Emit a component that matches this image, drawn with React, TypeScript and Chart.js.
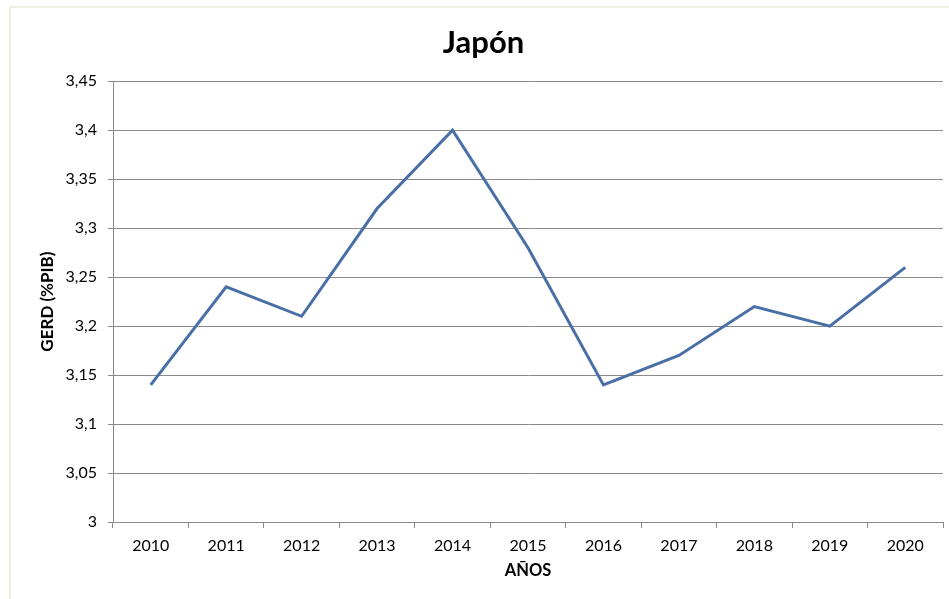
import React, { useEffect, useRef } from "react";
import { Chart, registerables } from "chart.js";

Chart.register(...registerables);

const years = ["2010", "2011", "2012", "2013", "2014", "2015", "2016", "2017", "2018", "2019", "2020"];
const gerd = [3.14, 3.24, 3.21, 3.32, 3.4, 3.28, 3.14, 3.17, 3.22, 3.2, 3.26];
const chartTitle = "Japón";
const yTitle = "GERD (%PIB)";
const xTitle = "AÑOS";

const FONT = "Lato, 'Noto Sans', sans-serif";
const GRID = "#8a8a8a";

export default function App() {
  const ref = useRef<HTMLCanvasElement | null>(null);

  useEffect(() => {
    document.body.style.margin = "0";
    const ctx = ref.current!.getContext("2d")!;
    const chart = new Chart(ctx, {
      type: "line",
      data: {
        labels: years,
        datasets: [
          {
            data: gerd,
            borderColor: "#4a6fa6",
            borderWidth: 3,
            pointRadius: 0,
            tension: 0,
            fill: false,
          },
        ],
      },
      options: {
        animation: false,
        responsive: false,
        layout: { padding: { left: 24, right: 6, top: 0, bottom: 0 } },
        plugins: {
          legend: { display: false },
          tooltip: { enabled: false },
          title: {
            display: true,
            text: chartTitle,
            color: "#000",
            font: { family: FONT, size: 31, weight: "bold" },
            padding: { top: 24, bottom: 20 },
          },
        },
        scales: {
          x: {
            offset: true,
            grid: {
              offset: true,
              drawOnChartArea: false,
              drawTicks: true,
              tickLength: 6,
              color: GRID,
            },
            border: { color: GRID, width: 1 },
            ticks: { color: "#000", font: { family: FONT, size: 16 }, padding: 8 },
            title: {
              display: true,
              text: xTitle,
              color: "#000",
              font: { family: FONT, size: 16.5, weight: "bold" },
              padding: { top: 0, bottom: 18 },
            },
            afterFit: (s: any) => {
              s.height = 77;
            },
          },
          y: {
            min: 3,
            max: 3.45,
            grid: { color: GRID, tickLength: 5, lineWidth: 1 },
            border: { color: GRID, width: 1 },
            ticks: {
              stepSize: 0.05,
              color: "#000",
              font: { family: FONT, size: 16 },
              padding: 11,
              callback: (v: any) => String(Number(Number(v).toFixed(2))).replace(".", ","),
            },
            title: {
              display: true,
              text: yTitle,
              color: "#000",
              font: { family: FONT, size: 17, weight: "bold" },
              padding: { top: 13, bottom: 0 },
            },
            afterFit: (s: any) => {
              s.width = 89;
            },
          },
        },
      },
    });
    return () => chart.destroy();
  }, []);

  return (
    <div style={{ position: "relative", width: 949, height: 599, overflow: "hidden", background: "#fff" }}>
      <div
        style={{
          position: "absolute",
          left: 9,
          top: 6,
          width: 1200,
          height: 1200,
          border: "2px solid #efefe2",
          boxSizing: "border-box",
        }}
      />
      <canvas ref={ref} width={949} height={599} style={{ position: "absolute", left: 0, top: 0 }} />
    </div>
  );
}
